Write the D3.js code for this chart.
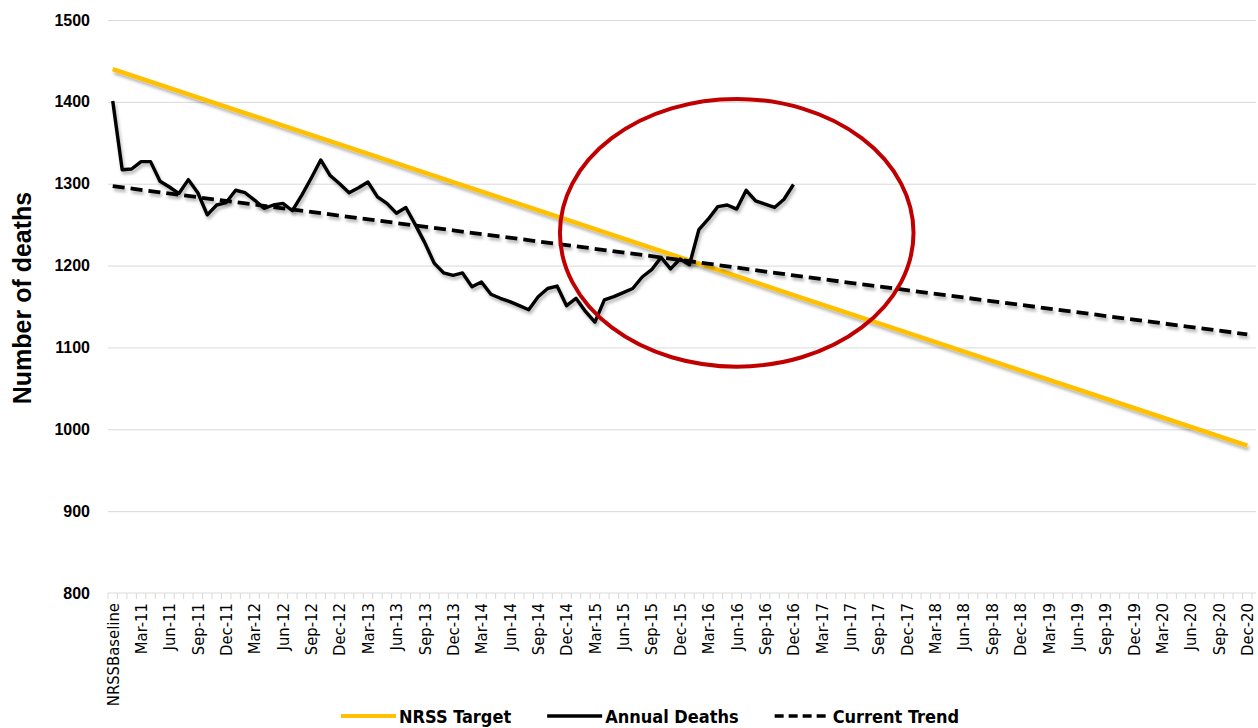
<!DOCTYPE html>
<html>
<head>
<meta charset="utf-8">
<script src="https://cdn.jsdelivr.net/npm/d3@7"></script>
<style>
  html, body { margin: 0; padding: 0; background: #fff; }
  svg { display: block; }
</style>
</head>
<body>
<svg id="chart" width="1258" height="728"></svg>
<script>
// ---------- DATA ----------
const categories = [
  "NRSSBaseline",
  "Jan-11","Feb-11","Mar-11","Apr-11","May-11","Jun-11","Jul-11","Aug-11","Sep-11","Oct-11","Nov-11","Dec-11",
  "Jan-12","Feb-12","Mar-12","Apr-12","May-12","Jun-12","Jul-12","Aug-12","Sep-12","Oct-12","Nov-12","Dec-12",
  "Jan-13","Feb-13","Mar-13","Apr-13","May-13","Jun-13","Jul-13","Aug-13","Sep-13","Oct-13","Nov-13","Dec-13",
  "Jan-14","Feb-14","Mar-14","Apr-14","May-14","Jun-14","Jul-14","Aug-14","Sep-14","Oct-14","Nov-14","Dec-14",
  "Jan-15","Feb-15","Mar-15","Apr-15","May-15","Jun-15","Jul-15","Aug-15","Sep-15","Oct-15","Nov-15","Dec-15",
  "Jan-16","Feb-16","Mar-16","Apr-16","May-16","Jun-16","Jul-16","Aug-16","Sep-16","Oct-16","Nov-16","Dec-16",
  "Jan-17","Feb-17","Mar-17","Apr-17","May-17","Jun-17","Jul-17","Aug-17","Sep-17","Oct-17","Nov-17","Dec-17",
  "Jan-18","Feb-18","Mar-18","Apr-18","May-18","Jun-18","Jul-18","Aug-18","Sep-18","Oct-18","Nov-18","Dec-18",
  "Jan-19","Feb-19","Mar-19","Apr-19","May-19","Jun-19","Jul-19","Aug-19","Sep-19","Oct-19","Nov-19","Dec-19",
  "Jan-20","Feb-20","Mar-20","Apr-20","May-20","Jun-20","Jul-20","Aug-20","Sep-20","Oct-20","Nov-20","Dec-20"
];

// Annual Deaths (rolling), NRSSBaseline .. Dec-16
const annualDeaths = [
  1401,
  1317,1318,1327,1327,1303,1296,1288,1305,1289,1262,1274,1277,
  1292,1289,1280,1270,1274,1276,1267,1286,1307,1329,1310,1300,
  1289,1295,1302,1284,1276,1264,1271,1250,1228,1203,1191,1188,
  1191,1174,1180,1165,1160,1156,1151,1146,1162,1172,1175,1151,
  1160,1144,1131,1158,1162,1167,1172,1186,1195,1210,1196,1208,
  1201,1244,1257,1272,1274,1269,1292,1279,1275,1271,1281,1299
];

// NRSS Target (straight decline) read at yearly points
const targetCats   = ["NRSSBaseline","Dec-11","Dec-12","Dec-13","Dec-14","Dec-15","Dec-16","Dec-17","Dec-18","Dec-19","Dec-20"];
const targetValues = [1440, 1394, 1348, 1302, 1256, 1210, 1164, 1118, 1072, 1026, 980];

// Current Trend (linear) read at yearly points
const trendCats   = ["NRSSBaseline","Dec-11","Dec-12","Dec-13","Dec-14","Dec-15","Dec-16","Dec-17","Dec-18","Dec-19","Dec-20"];
const trendValues = [1297, 1279, 1261, 1243, 1225, 1207, 1188, 1170, 1152, 1134, 1116];

const yTicks = [800, 900, 1000, 1100, 1200, 1300, 1400, 1500];
const labelEvery = 3;

// annotation ring (data coordinates)
const ringCenter = { cat: "Jun-16", value: 1240 };
const ringRadius = { months: 18.7, deaths: 163.5 };

const legendItems = [
  { name: "NRSS Target",   color: "#FFC000", dash: null,   width: 4 },
  { name: "Annual Deaths", color: "#000000", dash: null,   width: 3.5 },
  { name: "Current Trend", color: "#000000", dash: "9,5",  width: 3.5 }
];

// ---------- LAYOUT ----------
const svg = d3.select("#chart");
const M = { left: 108, right: 1252, top: 20, bottom: 593 };

const x = d3.scalePoint()
  .domain(categories)
  .range([M.left, M.right])
  .padding(0.5);
const step = x.step();

const y = d3.scaleLinear()
  .domain([800, 1500])
  .range([M.bottom, M.top]);

const defs = svg.append("defs");
const f = defs.append("filter").attr("id", "shadow")
  .attr("x", "-5%").attr("y", "-20%").attr("width", "110%").attr("height", "140%");
f.append("feDropShadow").attr("dx", 1.5).attr("dy", 3).attr("stdDeviation", 1.6)
  .attr("flood-color", "#000").attr("flood-opacity", 0.28);

// gridlines
const gridAxis = d3.axisLeft(y).tickValues(yTicks.filter(v => v > 800))
  .tickSize(-(M.right - M.left + 4)).tickFormat("");
svg.append("g").attr("transform", `translate(${M.left},0)`).call(gridAxis)
  .call(g => g.select(".domain").remove())
  .call(g => g.selectAll("line").attr("stroke", "#d9d9d9").attr("stroke-width", 1));

// y tick labels
const yAxis = d3.axisLeft(y).tickValues(yTicks).tickFormat(d3.format("d")).tickSize(0).tickPadding(18);
svg.append("g").attr("transform", `translate(${M.left},0)`).call(yAxis)
  .call(g => g.select(".domain").remove())
  .call(g => g.selectAll("text")
    .attr("font-family", "'Liberation Sans', Arial, sans-serif")
    .attr("font-weight", "bold").attr("font-size", 16).attr("fill", "#000"));

// x axis line + boundary ticks
const xg = svg.append("g");
xg.append("line").attr("x1", M.left).attr("x2", M.right + 4)
  .attr("y1", M.bottom).attr("y2", M.bottom).attr("stroke", "#d9d9d9").attr("stroke-width", 1.2);
xg.selectAll("line.tk").data(d3.range(categories.length + 1)).join("line")
  .attr("class", "tk")
  .attr("x1", i => M.left + i * step).attr("x2", i => M.left + i * step)
  .attr("y1", M.bottom).attr("y2", M.bottom + 6)
  .attr("stroke", "#d9d9d9").attr("stroke-width", 1);

// x labels (every 3rd category)
const xAxis = d3.axisBottom(x)
  .tickValues(categories.filter((c, i) => i % labelEvery === 0))
  .tickSize(0);
svg.append("g").attr("transform", `translate(0,${M.bottom})`).call(xAxis)
  .call(g => g.select(".domain").remove())
  .call(g => g.selectAll("text")
    .attr("transform", "rotate(-90)")
    .attr("x", -10).attr("y", 0).attr("dy", "0.32em")
    .attr("text-anchor", "end")
    .attr("font-family", "'Liberation Sans Narrow', 'DejaVu Sans Condensed', 'Arial Narrow', sans-serif")
    .attr("font-size", 16.5).attr("fill", "#000"));

// y title
svg.append("text")
  .attr("transform", `translate(31,298) rotate(-90)`)
  .attr("text-anchor", "middle")
  .attr("font-family", "'Liberation Sans', Arial, sans-serif")
  .attr("font-weight", "bold").attr("font-size", 25).attr("fill", "#000")
  .text("Number of deaths");

// ---------- SERIES ----------
const line = d3.line().x(d => x(d.cat)).y(d => y(d.value));

svg.append("path")
  .datum(targetCats.map((c, i) => ({ cat: c, value: targetValues[i] })))
  .attr("d", line).attr("fill", "none")
  .attr("stroke", "#FFC000").attr("stroke-width", 4.5)
  .attr("filter", "url(#shadow)");

svg.append("path")
  .datum(trendCats.map((c, i) => ({ cat: c, value: trendValues[i] })))
  .attr("d", line).attr("fill", "none")
  .attr("stroke", "#000").attr("stroke-width", 3.8)
  .attr("stroke-dasharray", "12,6")
  .attr("filter", "url(#shadow)");

svg.append("path")
  .datum(annualDeaths.map((v, i) => ({ cat: categories[i], value: v })))
  .attr("d", line).attr("fill", "none")
  .attr("stroke", "#000").attr("stroke-width", 3.4)
  .attr("stroke-linejoin", "round")
  .attr("filter", "url(#shadow)");

// annotation ring
svg.append("ellipse")
  .attr("cx", x(ringCenter.cat))
  .attr("cy", y(ringCenter.value))
  .attr("rx", ringRadius.months * step)
  .attr("ry", y(800) - y(800 + ringRadius.deaths))
  .attr("fill", "none").attr("stroke", "#C00000").attr("stroke-width", 4);

// ---------- LEGEND ----------
const lg = svg.append("g");
let lx = 341;
const ly = 716;
legendItems.forEach(it => {
  lg.append("line").attr("x1", lx).attr("x2", lx + 55).attr("y1", ly).attr("y2", ly)
    .attr("stroke", it.color).attr("stroke-width", it.width)
    .attr("stroke-dasharray", it.dash);
  const t = lg.append("text").attr("x", lx + 58).attr("y", ly + 7)
    .attr("font-family", "'Liberation Sans Narrow', 'DejaVu Sans Condensed', 'Arial Narrow', sans-serif")
    .attr("font-weight", "bold").attr("font-size", 18).attr("fill", "#000")
    .text(it.name);
  lx = lx + 58 + t.node().getComputedTextLength() + 36;
});
</script>
</body>
</html>
